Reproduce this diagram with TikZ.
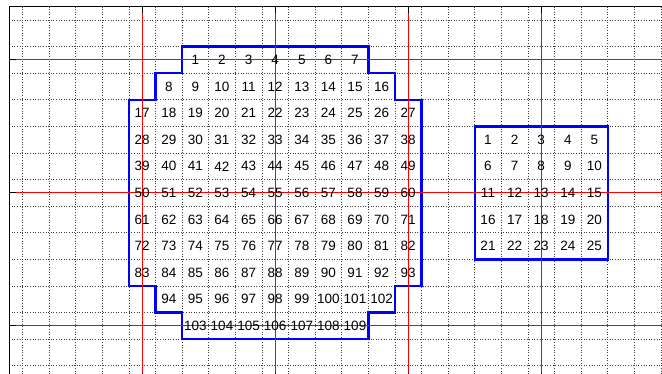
\documentclass[tikz,border=0pt]{standalone}
\usepackage{fontspec}
\setmainfont{Liberation Sans}
\begin{document}
\begin{tikzpicture}[x=1pt,y=-1pt,
  gridline/.style={black!75, line width=0.7pt, dash pattern=on 1pt off 1.6pt},
  redline/.style={red, line width=1pt},
  outline/.style={blue, line width=2.4pt, line join=miter},
  axisline/.style={black, line width=1.2pt},
  num/.style={font=\fontsize{13.5}{14}\selectfont, inner sep=0pt, text=black}]
\useasboundingbox (0,0) rectangle (662,374);
\fill[white] (0,0) rectangle (662,374);
\clip (0,0) rectangle (662,374);
\begin{scope}[shift={(22.5pt,-20pt)}, x=26.6pt, y=-26.6pt]
  % dotted cell grid
  \foreach \i in {0,...,24} \draw[gridline] (\i,-0.5) -- (\i,13.6);
  \foreach \j in {0,...,13} \draw[gridline] (-0.5,\j) -- (24.6,\j);
  % blue outlines
  \draw[outline] (6,1) -| (13,2) -| (14,3) -| (15,10) -| (14,11) -| (13,12)
     -| (6,11) -| (5,10) -| (4,3) -| (5,2) -| (6,1) -- cycle;
  \draw[outline] (17,4) rectangle (22,9);
  % red lines
  \foreach \x in {4.5,9.5,14.5,19.5} \draw[redline] (\x,-0.5) -- (\x,14);
  \foreach \y in {1.5,6.5,11.5} \draw[redline] (-0.5,\y) -- (25,\y);
  % numbers, left shape
  \foreach \r/\c/\n/\s in {1/6/7/1, 2/5/9/8, 3/4/11/17, 4/4/11/28, 5/4/11/39,
      6/4/11/50, 7/4/11/61, 8/4/11/72, 9/4/11/83, 10/5/9/94, 11/6/7/103} {
    \foreach \k in {1,...,\n} {
      \pgfmathtruncatemacro\v{\s+\k-1}
      \node[num] (a\v) at (\c+\k-0.5, \r+0.5) {\v};
    }
  }
  % numbers, right square
  \foreach \r in {0,...,4} {
    \foreach \k in {1,...,5} {
      \pgfmathtruncatemacro\v{5*\r+\k}
      \node[num] (b\v) at (16.5+\k, 4.5+\r) {\v};
    }
  }
  % axes frame and ticks
  \draw[axisline] (25,-0.5) -- (-0.5,-0.5) -- (-0.5,14);
  \foreach \x in {4.5,9.5,14.5,19.5} {
    \draw[axisline] (\x,-0.5) -- ++(0,0.245);
    \draw[axisline] (\x,13.5) -- ++(0,-0.245);
  }
  \foreach \y in {1.5,6.5,11.5} \draw[axisline] (-0.5,\y) -- ++(0.245,0);
\end{scope}
\end{tikzpicture}
\end{document}
